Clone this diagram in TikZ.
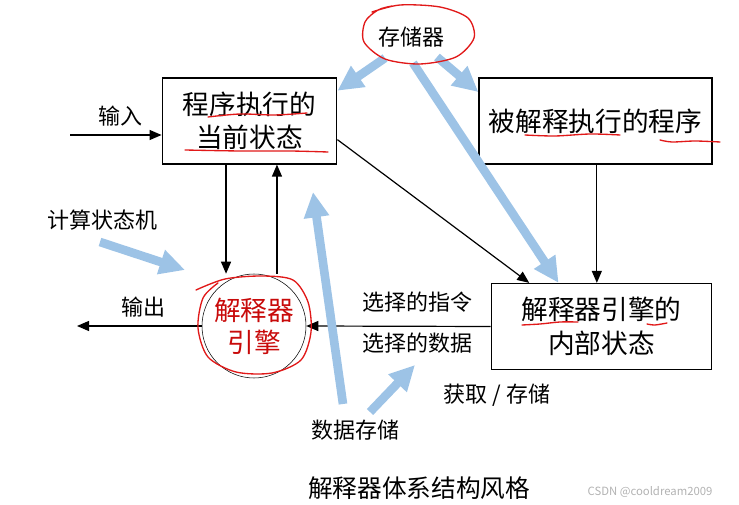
\documentclass[tikz,border=0pt]{standalone}
\usepackage{fontspec}
\setmainfont{Noto Sans CJK SC}
\usetikzlibrary{arrows.meta,positioning}
\definecolor{memblue}{RGB}{157,195,230}
\definecolor{penred}{RGB}{225,25,25}
\definecolor{enginered}{RGB}{200,10,10}

\begin{document}
\begin{tikzpicture}[x=0.75pt, y=-0.75pt,
    box/.style={rectangle, draw, line width=0.9pt, minimum height=64.5pt, align=center,
                font=\fontsize{20}{25}\selectfont},
    lbl/.style={font=\fontsize{16.5}{20}\selectfont},
    flow/.style={-{Triangle[length=9pt,width=7.5pt]}, line width=0.9pt},
    fat/.style={memblue, line width=6.5pt, -{Triangle[length=19pt,width=18pt]}},
    pen/.style={penred, line width=1pt, line cap=round}]
\useasboundingbox (0,0) rectangle (739,505);

% state boxes
\node[box, minimum width=131pt] (cur) at (249.5,121) {程序执行的\\当前状态};
\node[box, minimum width=174.75pt] (prog) at (595.5,121) {被解释执行的程序};
\node[box, minimum width=165.5pt] (inner) at (601.5,326.5) {解释器引擎的\\内部状态};

% interpreter engine
\node[circle, draw, thin, inner sep=0pt, minimum size=78pt, align=center, text=enginered,
      font=\fontsize{20}{24}\selectfont] (eng) at (254,326) {解释器\\引擎};

% memory
\node[lbl] (mem) at (411,37) {存储器};

% labels
\node[lbl] (inlbl) at (120,116) {输入};
\node[lbl] (outlbl) at (143,307) {输出};
\node[lbl] (csm) at (102,220) {计算状态机};
\node[lbl] (selins) at (417,302) {选择的指令};
\node[lbl] (seldat) at (417,343) {选择的数据};
\node[lbl] (fetch) at (497,395) {获取 / 存储};
\node[lbl] (dstore) at (355,430) {数据存储};
\node[font=\fontsize{18.5}{20}\selectfont] (title) at (419,488) {解释器体系结构风格};
\node[font=\fontsize{8.5}{10}\selectfont, gray!60] (mark) at (650,492) {CSDN @cooldream2009};

% black connectors
\coordinate (inp) at (70,135);
\coordinate (outp) at (77,326);
\draw[flow] (inp) -- (inp -| cur.west);
\draw[flow] ([xshift=-17.6pt]cur.south) -- ([xshift=-17.6pt]cur.south |- eng.north);
\draw[flow] ([xshift=20.6pt]cur.south |- eng.north) -- ([xshift=20.6pt]cur.south);
\draw[flow] (eng.west) -- (outp);
\draw[flow] (inner.west) -- (eng.east);
\draw[flow] ([yshift=-14pt]cur.east) -- ([xshift=29pt]inner.north west);
\draw[flow] ([xshift=1pt]prog.south) -- ([xshift=1pt]prog.south |- inner.north);

% blue arrows
\coordinate (m1) at (385,58);
\coordinate (m2) at (437,57);
\coordinate (m3) at (413,63);
\coordinate (c1) at (100,242);
\coordinate (c2) at (185,270);
\coordinate (d1) at (343,404);
\coordinate (d2) at (313,192);
\coordinate (d3) at (370,412);
\coordinate (d4) at (415,365);
\draw[fat] (m1) -- ([yshift=-10pt]cur.north east);
\draw[fat] (m2) -- ([yshift=-11pt]prog.north west);
\draw[fat] (m3) -- ([xshift=51pt]inner.north west);
\draw[fat] (c1) -- (c2);
\draw[fat] (d1) -- (d2);
\draw[fat] (d3) -- (d4);

% red pen marks
\draw[pen] plot[smooth] coordinates {(372,12) (400,5) (440,7) (468,18) (474,38) (456,57) (420,64) (385,59) (364,42) (365,22) (378,10) (392,6)};
\draw[pen] plot[smooth] coordinates {(196,290) (225,279) (262,276) (293,280) (308,302) (311,332) (301,360) (272,373) (236,372) (208,357) (198,328) (203,298) (218,283)};
\draw[pen] plot[smooth] coordinates {(208,117) (240,114) (275,115) (307,113)};
\draw[pen] plot[smooth] coordinates {(185,150) (240,151) (290,151) (328,152)};
\draw[pen] plot[smooth] coordinates {(525,135) (555,136) (590,134) (620,135)};
\draw[pen] plot[smooth] coordinates {(660,140) (672,142) (695,141) (720,142)};
\draw[pen] plot[smooth] coordinates {(522,325) (540,324) (560,322) (578,322)};
\draw[pen] plot[smooth] coordinates {(647,324) (655,325) (667,323)};
\end{tikzpicture}
\end{document}
